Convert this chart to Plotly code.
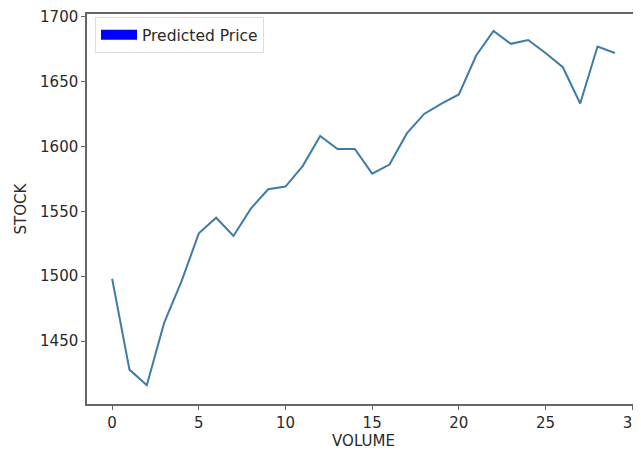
import plotly.graph_objects as go

volume = list(range(30))
predicted_price = [1498, 1428, 1416, 1464, 1496, 1533, 1545, 1531, 1552, 1567,
                   1569, 1585, 1608, 1598, 1598, 1579, 1586, 1610, 1625, 1633,
                   1640, 1670, 1689, 1679, 1682, 1672, 1661, 1633, 1677, 1672]
x_ticks = [0, 5, 10, 15, 20, 25, 30]
y_ticks = [1450, 1500, 1550, 1600, 1650, 1700]

font = dict(family="DejaVu Sans", size=15, color="#2a2a2a")

fig = go.Figure()
fig.add_trace(go.Scatter(x=volume, y=predicted_price, mode="lines",
                         line=dict(color="#3f7ca4", width=2), showlegend=False))
fig.add_trace(go.Scatter(x=[None], y=[None], mode="lines", name="Predicted Price",
                         line=dict(color="#0000ff", width=10)))

axis_common = dict(showline=True, mirror=True, linecolor="#666666", linewidth=1.5,
                   ticks="outside", ticklen=4, tickcolor="#666666", showgrid=False,
                   zeroline=False, tickfont=font, automargin=False,
                   ticklabeloverflow="allow")

# page body adds an 8px offset, so the figure is sized to fit the window
fig.update_layout(
    width=633, height=442,
    margin=dict(l=79, r=1, t=6, b=46),
    paper_bgcolor="white", plot_bgcolor="white",
    font=font,
    xaxis=dict(range=[-1.45, 30.45], tickvals=x_ticks,
               title=dict(text="VOLUME", font=font, standoff=4), **axis_common),
    yaxis=dict(range=[1401.5, 1702], tickvals=y_ticks,
               title=dict(text="STOCK", font=font, standoff=10), **axis_common),
    legend=dict(x=0.0145, y=0.992, xanchor="left", yanchor="top",
                bgcolor="white", bordercolor="#dddddd", borderwidth=1,
                itemwidth=36, font=dict(family="DejaVu Sans", size=15.5, color="#2a2a2a")),
)

fig.write_html("out.html")
